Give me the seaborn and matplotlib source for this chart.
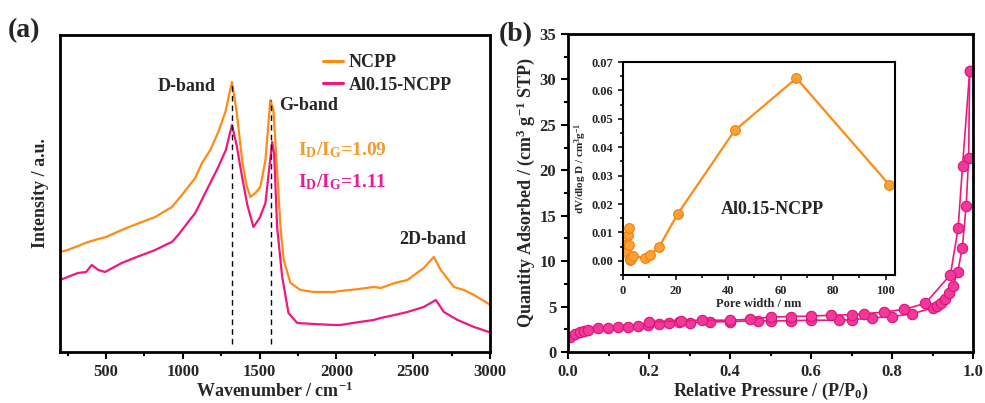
import numpy as np
import pandas as pd
import matplotlib
matplotlib.use("Agg")
import matplotlib.pyplot as plt
from matplotlib.ticker import MultipleLocator
import seaborn as sns

# ── Raman spectra (a), intensity in arbitrary units ──
wn_ncpp = [200, 250, 317, 383, 450, 500, 602, 700, 820, 929, 994, 1035, 1081,
           1125, 1179, 1231, 1277, 1320, 1349, 1386, 1414, 1440, 1473, 1505,
           1538, 1570, 1590, 1603, 1636, 1657, 1701, 1766, 1850, 1982, 2027,
           2150, 2243, 2289, 2380, 2463, 2569, 2634, 2680, 2765, 2830, 2896,
           2993, 3000]
int_ncpp = [100, 102, 106, 110, 113, 115, 122, 128, 135, 145, 157, 165, 174,
            189, 202, 220, 240, 270, 242, 192, 167, 155, 159, 165,
            192, 252, 242, 209, 125, 92, 69, 62, 60, 60, 61,
            63, 65, 64, 69, 72, 84, 95, 82, 65, 62, 57,
            48, 47]

wn_al = [200, 317, 370, 407, 450, 493, 602, 700, 820, 900, 929, 970, 1035,
         1081, 1146, 1231, 1280, 1320, 1350, 1386, 1420, 1460, 1500, 1538,
         1565, 1582, 1595, 1614, 1647, 1688, 1745, 1850, 1982, 2027, 2150,
         2243, 2289, 2380, 2463, 2569, 2648, 2700, 2789, 2896, 2993, 3000]
int_al = [72, 79, 80, 87, 82, 80, 89, 95, 102, 108, 110, 117, 130,
          139, 159, 185, 202, 227, 207, 175, 147, 125, 134, 149,
          187, 210, 197, 125, 75, 39, 29, 28, 27, 27, 30,
          32, 34, 37, 40, 45, 52, 40, 32, 25, 20, 20]

d_band, g_band = 1320, 1575

# ── N2 isotherm (b) ──
p_ads = [0.004, 0.017, 0.029, 0.039, 0.05, 0.074, 0.099, 0.124, 0.149, 0.173,
         0.198, 0.225, 0.25, 0.275, 0.30, 0.35, 0.40, 0.47, 0.50, 0.55, 0.60,
         0.67, 0.70, 0.75, 0.80, 0.85, 0.90, 0.911, 0.921, 0.931, 0.94, 0.95,
         0.962, 0.9735, 0.983, 0.989, 0.9916]
q_ads = [1.7, 2.0, 2.2, 2.3, 2.45, 2.6, 2.65, 2.75, 2.8, 2.85,
         3.0, 3.05, 3.15, 3.25, 3.2, 3.3, 3.35, 3.45, 3.4, 3.45, 3.5,
         3.5, 3.55, 3.75, 3.9, 4.2, 4.86, 5.05, 5.4, 5.86, 6.45, 7.26,
         8.8, 11.5, 16.1, 21.4, 30.9]

p_des = [0.9916, 0.974, 0.963, 0.944, 0.882, 0.83, 0.78, 0.73, 0.70, 0.65,
         0.60, 0.55, 0.50, 0.45, 0.40, 0.33, 0.28, 0.20]
q_des = [30.9, 20.5, 13.6, 8.5, 5.35, 4.7, 4.4, 4.2, 4.1, 4.05,
         3.95, 3.9, 3.85, 3.6, 3.5, 3.5, 3.45, 3.3]

# ── pore size distribution (inset) ──
pore_w = [1.3, 1.5, 1.8, 2.3, 2.4, 2.6, 2.8, 3.2, 3.8, 8.3, 10.4, 13.8, 20.8,
          42.5, 66.0, 101.3]
dv_dlogd = [0.0030, 0.0058, 0.0092, 0.0114, 0.0055, 0.0010, 0.0002, 0.0008,
            0.0018, 0.0009, 0.0020, 0.0050, 0.0165, 0.0459, 0.0643, 0.0268]

ORANGE = "#FF8A14"
PINK = "#F0177F"
ORANGE_TXT = "#F39A2A"
PINK_TXT = "#E81A96"

sns.set_theme(style="ticks")
plt.rcParams["font.family"] = ["Liberation Serif", "DejaVu Serif"]
plt.rcParams["font.weight"] = "bold"
plt.rcParams["axes.labelweight"] = "bold"
plt.rcParams["mathtext.fontset"] = "custom"
plt.rcParams["mathtext.rm"] = "Liberation Serif:bold"
plt.rcParams["mathtext.it"] = "Liberation Serif:bold"
plt.rcParams["mathtext.bf"] = "Liberation Serif:bold"

fig = plt.figure(figsize=(9.85, 4.03), dpi=100)
ax_a = fig.add_axes([0.0609, 0.1266, 0.4365, 0.7866])
ax_b = fig.add_axes([0.5767, 0.1266, 0.4112, 0.789])
ax_in = fig.add_axes([0.6325, 0.3176, 0.2761, 0.5285])


def style_axes(ax, lw=2.0, major=5, minor=3, size=12):
    for s in ax.spines.values():
        s.set_linewidth(lw)
        s.set_color("black")
    ax.tick_params(which="major", direction="out", length=major, width=lw * 0.75,
                   labelsize=size, color="black", top=False, right=False)
    ax.tick_params(which="minor", direction="out", length=minor, width=lw * 0.75,
                   color="black", top=False, right=False)
    for lab in ax.get_xticklabels() + ax.get_yticklabels():
        lab.set_fontweight("bold")


# ── (a) Raman ──
raman = pd.concat([
    pd.DataFrame({"wn": wn_ncpp, "I": int_ncpp, "sample": "NCPP"}),
    pd.DataFrame({"wn": wn_al, "I": int_al, "sample": "Al0.15-NCPP"}),
])
sns.lineplot(data=raman, x="wn", y="I", hue="sample",
             palette={"NCPP": ORANGE, "Al0.15-NCPP": PINK},
             linewidth=1.6, ax=ax_a, legend=True)
ax_a.vlines([d_band, g_band], 8, [270, 252], colors="black",
            linestyles=(0, (4, 3)), linewidth=1.0)
ax_a.set_xlim(200, 3000)
ax_a.set_ylim(0, 317)
ax_a.set_yticks([])
ax_a.xaxis.set_major_locator(MultipleLocator(500))
ax_a.xaxis.set_minor_locator(MultipleLocator(250))
ax_a.set_xlabel("Wavenumber / cm$^{-1}$", fontsize=13, labelpad=1)
ax_a.set_ylabel("Intensity / a.u.", fontsize=13, labelpad=8)
style_axes(ax_a)
leg = ax_a.legend(loc="upper left", bbox_to_anchor=(0.575, 0.99), frameon=False,
                  handlelength=1.1, handletextpad=0.3, labelspacing=0.3,
                  prop={"size": 13, "weight": "bold"})
for h in leg.get_lines():
    h.set_linewidth(2.2)

ax_a.text(1022, 265, "D-band", ha="center", va="center", fontsize=13, fontweight="bold")
ax_a.text(1625, 246, "G-band", ha="left", va="center", fontsize=13, fontweight="bold")
ax_a.text(2628, 112, "2D-band", ha="center", va="center", fontsize=13, fontweight="bold")
ax_a.text(1750, 202, "I$_\\mathregular{D}$/I$_\\mathregular{G}$=1.09", ha="left", va="center",
          fontsize=14, fontweight="bold", color=ORANGE_TXT)
ax_a.text(1750, 170, "I$_\\mathregular{D}$/I$_\\mathregular{G}$=1.11", ha="left", va="center",
          fontsize=14, fontweight="bold", color=PINK_TXT)

# ── (b) isotherm ──
mk = dict(marker="o", markersize=7.5, markerfacecolor="#F2389A",
          markeredgecolor="#D91478", markeredgewidth=0.8)
sns.lineplot(x=p_ads, y=q_ads, color=PINK, linewidth=1.2, ax=ax_b, **mk)
sns.lineplot(x=p_des, y=q_des, color=PINK, linewidth=1.2, ax=ax_b, **mk)
ax_b.set_xlim(0, 1.0)
ax_b.set_ylim(0, 35)
ax_b.xaxis.set_major_locator(MultipleLocator(0.2))
ax_b.xaxis.set_minor_locator(MultipleLocator(0.1))
ax_b.yaxis.set_major_locator(MultipleLocator(5))
ax_b.yaxis.set_minor_locator(MultipleLocator(2.5))
ax_b.set_xticks(np.arange(0, 1.01, 0.2))
ax_b.set_xticklabels([f"{v:.1f}" for v in np.arange(0, 1.01, 0.2)])
ax_b.set_xlabel("Relative Pressure / (P/P$_0$)", fontsize=13, labelpad=1)
ax_b.set_ylabel("Quantity Adsorbed / (cm$^3$ g$^{-1}$ STP)", fontsize=13, labelpad=2)
style_axes(ax_b)

# ── inset: pore size distribution ──
mk_in = dict(marker="o", markersize=7, markerfacecolor="#FFA033",
             markeredgecolor="#F08010", markeredgewidth=0.8)
sns.lineplot(x=pore_w, y=dv_dlogd, color=ORANGE, linewidth=1.6, ax=ax_in,
             sort=False, **mk_in)
ax_in.set_xlim(0, 103.5)
ax_in.set_ylim(-0.005, 0.07)
ax_in.xaxis.set_major_locator(MultipleLocator(20))
ax_in.xaxis.set_minor_locator(MultipleLocator(10))
ax_in.yaxis.set_major_locator(MultipleLocator(0.01))
ax_in.yaxis.set_minor_locator(MultipleLocator(0.005))
ax_in.set_yticks(np.arange(0, 0.071, 0.01))
ax_in.set_yticklabels([f"{v:.2f}" for v in np.arange(0, 0.071, 0.01)])
ax_in.set_xlabel("Pore width / nm", fontsize=9, labelpad=1)
ax_in.set_ylabel("dV/dlog D / cm$^3$g$^{-1}$", fontsize=8, labelpad=2)
style_axes(ax_in, lw=1.5, major=3.5, minor=2, size=9)
ax_in.text(57, 0.018, "Al0.15-NCPP", ha="center", va="center", fontsize=13,
           fontweight="bold")

fig.text(0.008, 0.925, "(a)", fontsize=20, fontweight="bold", va="center")
fig.text(0.506, 0.913, "(b)", fontsize=20, fontweight="bold", va="center")

fig.savefig("out.png", dpi=100)
